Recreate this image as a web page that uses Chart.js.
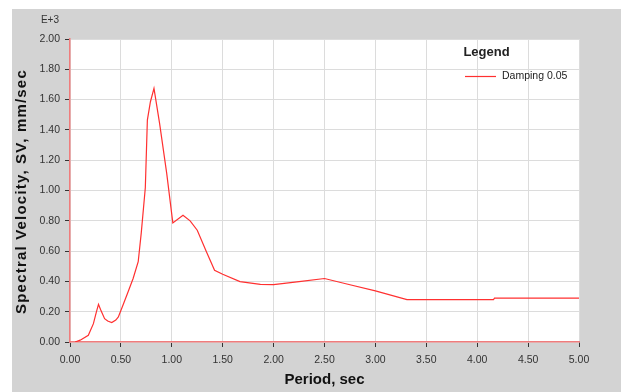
<!DOCTYPE html>
<html>
<head>
<meta charset="utf-8">
<script src="https://cdn.jsdelivr.net/npm/chart.js@4"></script>
<style>
  html, body { margin: 0; padding: 0; background: #fff; }
  #wrap { width: 621px; height: 392px; }
</style>
</head>
<body>
<div id="wrap"><canvas id="spectrum" width="621" height="392"></canvas></div>
<script>
// ==========================================
// 1. Data (period in sec, SV in E+3 mm/sec)
// ==========================================
const periods = [0.05, 0.10, 0.18, 0.23, 0.26, 0.28, 0.30, 0.34, 0.37, 0.41, 0.45, 0.475, 0.52, 0.57,
  0.62, 0.67, 0.70, 0.74, 0.76, 0.79, 0.825, 0.88, 0.95, 1.01, 1.11, 1.18, 1.25, 1.34, 1.42,
  1.50, 1.67, 1.87, 2.00, 2.25, 2.50, 2.75, 3.00, 3.31, 3.63, 4.16, 4.17, 5.00];
const velocity = [0.000, 0.012, 0.044, 0.121, 0.200, 0.249, 0.215, 0.154, 0.138, 0.128, 0.145, 0.165, 0.242, 0.330,
  0.419, 0.530, 0.720, 1.020, 1.465, 1.586, 1.674, 1.443, 1.113, 0.786, 0.837, 0.800, 0.738, 0.595, 0.474,
  0.447, 0.399, 0.381, 0.379, 0.398, 0.419, 0.378, 0.337, 0.280, 0.280, 0.280, 0.289, 0.289];
const xTicks = [0, 0.5, 1, 1.5, 2, 2.5, 3, 3.5, 4, 4.5, 5];
const yTicks = [0, 0.2, 0.4, 0.6, 0.8, 1.0, 1.2, 1.4, 1.6, 1.8, 2.0];
const seriesName = 'Damping 0.05';
const yTitle = 'Spectral Velocity, SV, mm/sec';

const points = periods.map((p, i) => ({ x: p, y: velocity[i] }));

// ==========================================
// 2. Plugins (panel background, y title, E+3, legend box)
// ==========================================
const FONT = '"Liberation Sans", Arial, sans-serif';

const panelPlugin = {
    id: 'panel',
    beforeDraw(chart) {
        const { ctx, chartArea: a } = chart;
        ctx.save();
        ctx.fillStyle = '#ffffff';
        ctx.fillRect(0, 0, chart.width, chart.height);
        ctx.fillStyle = '#d3d3d3';
        ctx.fillRect(12, 9, chart.width - 12, chart.height - 9);
        ctx.fillStyle = '#ffffff';
        ctx.fillRect(a.left, a.top, a.right - a.left, a.bottom - a.top);
        ctx.restore();
    },
    afterDraw(chart) {
        const ctx = chart.ctx;
        const a = chart.chartArea;
        const ds = chart.data.datasets[0];
        ctx.save();

        // y axis title (slightly letter-spaced like the original)
        ctx.translate(22, (a.top + a.bottom) / 2 + 1);
        ctx.rotate(-Math.PI / 2);
        ctx.font = 'bold 15px ' + FONT;
        ctx.letterSpacing = '1.2px';
        ctx.fillStyle = '#111';
        ctx.textAlign = 'center';
        ctx.textBaseline = 'middle';
        ctx.fillText(yTitle, 0, 0);
        ctx.restore();

        ctx.save();
        // exponent label above the y axis
        ctx.fillStyle = '#333';
        ctx.font = '10px ' + FONT;
        ctx.textAlign = 'right';
        ctx.textBaseline = 'middle';
        ctx.fillText('E+3', 59, 20);

        // legend
        ctx.font = 'bold 13px ' + FONT;
        ctx.textAlign = 'center';
        ctx.fillStyle = '#222';
        ctx.fillText('Legend', 486.5, 52);
        ctx.strokeStyle = ds.borderColor;
        ctx.lineWidth = 1.2;
        ctx.beginPath();
        ctx.moveTo(465, 76.5);
        ctx.lineTo(496, 76.5);
        ctx.stroke();
        ctx.font = '10.5px ' + FONT;
        ctx.textAlign = 'left';
        ctx.fillStyle = '#222';
        ctx.fillText(ds.label, 502, 76);
        ctx.restore();
    }
};

// ==========================================
// 3. Chart
// ==========================================
const tickFont = { family: FONT, size: 10.5 };
const titleFont = { family: FONT, size: 15, weight: 'bold' };

new Chart(document.getElementById('spectrum'), {
    type: 'line',
    data: {
        datasets: [{
            label: seriesName,
            data: points,
            borderColor: '#ff3030',
            borderWidth: 1.2,
            pointRadius: 0,
            tension: 0,
            fill: false
        }]
    },
    options: {
        responsive: false,
        animation: false,
        layout: { padding: { left: 0, top: 39, right: 42, bottom: 0 } },
        plugins: { legend: { display: false }, tooltip: { enabled: false } },
        scales: {
            x: {
                type: 'linear',
                min: 0, max: 5,
                afterBuildTicks: s => { s.ticks = xTicks.map(v => ({ value: v })); },
                afterFit: s => { s.height = 50; },
                ticks: { callback: v => Number(v).toFixed(2), font: tickFont, color: '#333', padding: 7, maxRotation: 0 },
                grid: { color: '#dcdcdc', tickColor: '#333', tickLength: 5 },
                border: { color: '#f07c7c', width: 1.5 },
                title: { display: true, text: 'Period, sec', font: titleFont, color: '#111', padding: { top: 0, bottom: 3 } }
            },
            y: {
                type: 'linear',
                min: 0, max: 2,
                afterBuildTicks: s => { s.ticks = yTicks.map(v => ({ value: v })); },
                afterFit: s => { s.width = 70; },
                ticks: { callback: v => Number(v).toFixed(2), font: tickFont, color: '#333', padding: 5 },
                grid: { color: '#dcdcdc', tickColor: '#333', tickLength: 5 },
                border: { color: '#f07c7c', width: 1.5 },
                title: { display: false }
            }
        }
    },
    plugins: [panelPlugin]
});
</script>
</body>
</html>
